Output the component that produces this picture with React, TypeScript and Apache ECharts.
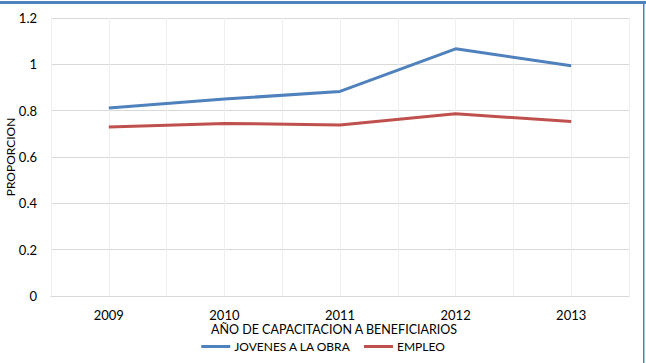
import React, { useEffect, useRef } from "react";
import * as echarts from "echarts";

const years = [2009, 2010, 2011, 2012, 2013];
const jovenesALaObra = [0.812, 0.85, 0.883, 1.067, 0.994];
const empleo = [0.729, 0.745, 0.738, 0.787, 0.753];
const yTicks = { min: 0, max: 1.2, interval: 0.2 };

const FONT = "Lato, 'Open Sans', sans-serif";
const BLUE = "#4f81bd";
const RED = "#c0504d";

export default function App() {
  const ref = useRef<HTMLDivElement>(null);

  useEffect(() => {
    if (!ref.current) return;
    const chart = echarts.init(ref.current, undefined, { renderer: "svg" });
    chart.setOption({
      animation: false,
      backgroundColor: "#ffffff",
      textStyle: { fontFamily: FONT },
      grid: {
        left: 51,
        right: 17,
        top: 18,
        bottom: 67,
        containLabel: false,
        outerBoundsMode: "none",
      },
      xAxis: {
        type: "value",
        min: years[0] - 0.5,
        max: years[years.length - 1] + 0.5,
        interval: 0.5,
        name: "AÑO DE CAPACITACION A BENEFICIARIOS",
        nameLocation: "middle",
        nameGap: 27,
        nameMoveOverlap: false,
        nameTextStyle: {
          color: "#000",
          fontSize: 12.5,
          lineHeight: 13,
          fontFamily: FONT,
          padding: [0, 12, 0, 0],
        },
        axisLine: { show: true, lineStyle: { color: "#d9d9d9", width: 1 } },
        axisTick: { show: false },
        axisLabel: {
          color: "#000",
          fontSize: 13,
          lineHeight: 14,
          fontFamily: FONT,
          margin: 12,
          formatter: (v: number) => (Number.isInteger(v) ? String(v) : ""),
        },
        splitLine: { show: true, lineStyle: { color: "#efefef", width: 1 } },
      },
      yAxis: {
        type: "value",
        min: yTicks.min,
        max: yTicks.max,
        interval: yTicks.interval,
        name: "PROPORCION",
        nameLocation: "middle",
        nameRotate: 90,
        nameGap: 35,
        nameMoveOverlap: false,
        nameTextStyle: { color: "#000", fontSize: 12, fontFamily: FONT },
        axisLine: { show: false },
        axisTick: { show: false },
        axisLabel: { color: "#000", fontSize: 13, fontFamily: FONT, margin: 14 },
        splitLine: { show: true, lineStyle: { color: "#d9d9d9", width: 1 } },
      },
      legend: {
        top: 340,
        left: "center",
        icon: "rect",
        itemWidth: 29,
        itemHeight: 3,
        itemGap: 13,
        padding: 0,
        textStyle: {
          color: "#000",
          fontSize: 12,
          lineHeight: 13,
          fontFamily: FONT,
          padding: [0, 0, 0, -1],
        },
        data: ["JOVENES A LA OBRA", "EMPLEO"],
      },
      series: [
        {
          name: "JOVENES A LA OBRA",
          type: "line",
          data: years.map((y, i) => [y, jovenesALaObra[i]]),
          showSymbol: false,
          symbol: "none",
          lineStyle: { color: BLUE, width: 3 },
          itemStyle: { color: BLUE },
        },
        {
          name: "EMPLEO",
          type: "line",
          data: years.map((y, i) => [y, empleo[i]]),
          showSymbol: false,
          symbol: "none",
          lineStyle: { color: RED, width: 3 },
          itemStyle: { color: RED },
        },
      ],
      graphic: [
        { type: "rect", left: 0, top: 1, shape: { width: 646, height: 3 }, style: { fill: BLUE } },
        { type: "rect", left: 643, top: 1, shape: { width: 1.5, height: 362 }, style: { fill: BLUE } },
      ],
    });
    return () => chart.dispose();
  }, []);

  return (
    <div
      ref={ref}
      style={{ position: "absolute", left: 0, top: 0, width: 646, height: 363 }}
    />
  );
}
